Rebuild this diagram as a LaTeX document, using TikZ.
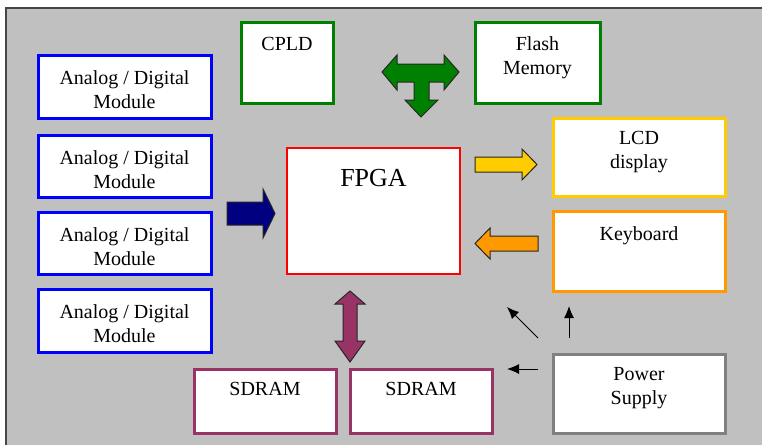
\documentclass[tikz,border=0pt]{standalone}
\usepackage{fontspec}
\setmainfont{Liberation Serif}
\definecolor{bggray}{RGB}{192,192,192}
\definecolor{edgegray}{RGB}{70,70,70}
\definecolor{cgreen}{RGB}{0,128,0}
\definecolor{cblue}{RGB}{0,0,255}
\definecolor{cred}{RGB}{255,0,0}
\definecolor{cyellow}{RGB}{255,204,0}
\definecolor{corange}{RGB}{255,153,0}
\definecolor{cplum}{RGB}{153,51,102}
\definecolor{cgray}{RGB}{128,128,128}
\definecolor{cnavy}{RGB}{0,0,128}
\tikzset{
  blk/.style={draw=#1, fill=white, line width=3pt, inner sep=0pt},
  txt/.style={anchor=north, align=center, inner sep=0pt, font=\fontsize{20}{24}\selectfont},
  bigtxt/.style={anchor=north, align=center, inner sep=0pt, font=\fontsize{26}{30}\selectfont},
  blockarrow/.style={fill=#1, draw=black!85, line width=1pt, line join=miter},
  thinarrow/.style={draw=black, line width=1pt, -{Latex[length=12pt,width=10pt]}},
}
\usetikzlibrary{arrows.meta}
\begin{document}
\begin{tikzpicture}[x=1pt,y=-1pt]
\useasboundingbox (0,0) rectangle (762,445);
\fill[bggray] (6,8) rectangle (762,445);
\draw[edgegray, line width=2pt] (6,445) -- (6,8) -- (762,8);

% boxes
\node[blk=cgreen, minimum width=92pt, minimum height=81pt] (cpld) at (287,62.5) {};
\node[blk=cgreen, minimum width=125pt, minimum height=81pt] (flash) at (537.5,62.5) {};
\node[blk=cblue, minimum width=173pt, minimum height=63pt] (ad1) at (124.5,86.5) {};
\node[blk=cblue, minimum width=173pt, minimum height=62pt] (ad2) at (124.5,166) {};
\node[blk=cblue, minimum width=173pt, minimum height=62pt] (ad3) at (124.5,243) {};
\node[blk=cblue, minimum width=173pt, minimum height=63pt] (ad4) at (124.5,320.5) {};
\node[blk=cred, line width=2pt, minimum width=173pt, minimum height=126pt] (fpga) at (373.5,211) {};
\node[blk=cyellow, minimum width=172pt, minimum height=78pt] (lcd) at (639,157) {};
\node[blk=corange, minimum width=172pt, minimum height=80pt] (kbd) at (639,251) {};
\node[blk=cplum, minimum width=142pt, minimum height=64pt] (sd1) at (265,401) {};
\node[blk=cplum, minimum width=142pt, minimum height=64pt] (sd2) at (421,401) {};
\node[blk=cgray, minimum width=172pt, minimum height=79pt] (psu) at (639,393.5) {};

% texts
\node[txt] (cpldt) at ([yshift=-17pt]cpld.north) {CPLD};
\node[txt] (flasht) at ([yshift=-16pt]flash.north) {Flash\\Memory};
\node[txt] (ad1t) at ([yshift=-17pt]ad1.north) {Analog / Digital\\Module};
\node[txt] (ad2t) at ([yshift=-17pt]ad2.north) {Analog / Digital\\Module};
\node[txt] (ad3t) at ([yshift=-17pt]ad3.north) {Analog / Digital\\Module};
\node[txt] (ad4t) at ([yshift=-17pt]ad4.north) {Analog / Digital\\Module};
\node[bigtxt] (fpgat) at ([yshift=-22pt]fpga.north) {FPGA};
\node[txt] (lcdt) at ([yshift=-15pt]lcd.north) {LCD\\display};
\node[txt] (kbdt) at ([yshift=-17pt]kbd.north) {Keyboard};
\node[txt] (sd1t) at ([yshift=-15pt]sd1.north) {SDRAM};
\node[txt] (sd2t) at ([yshift=-15pt]sd2.north) {SDRAM};
\node[txt] (psut) at ([yshift=-15pt]psu.north) {Power\\Supply};

% block arrows
\draw[blockarrow=cgreen] (382,72) -- (397,55) -- (397,64) -- (444,64) -- (444,55) -- (459,72)
  -- (444,90) -- (444,82) -- (429,82) -- (429,100) -- (438,100) -- (421,117) -- (405,100)
  -- (414,100) -- (414,82) -- (397,82) -- (397,90) -- cycle;
\draw[blockarrow=cnavy] (227,202) -- (263,202) -- (263,189) -- (275,213.5) -- (263,238)
  -- (263,225) -- (227,225) -- cycle;
\draw[blockarrow=cyellow] (475,157) -- (522,157) -- (522,149) -- (537,164.5) -- (522,180)
  -- (522,172) -- (475,172) -- cycle;
\draw[blockarrow=corange] (538,236) -- (490,236) -- (490,228) -- (475,243.5) -- (490,259)
  -- (490,251) -- (538,251) -- cycle;
\draw[blockarrow=cplum] (350,291) -- (365,304) -- (357,304) -- (357,341) -- (365,341)
  -- (350,362) -- (335,341) -- (343,341) -- (343,304) -- (335,304) -- cycle;

% thin arrows
\coordinate (p1s) at (538,338); \coordinate (p1e) at (507,307);
\coordinate (p2s) at (569,338); \coordinate (p2e) at (569,306);
\coordinate (p3s) at (538,369); \coordinate (p3e) at (507,369);
\draw[thinarrow] (p1s) -- (p1e);
\draw[thinarrow] (p2s) -- (p2e);
\draw[thinarrow] (p3s) -- (p3e);
\end{tikzpicture}
\end{document}
